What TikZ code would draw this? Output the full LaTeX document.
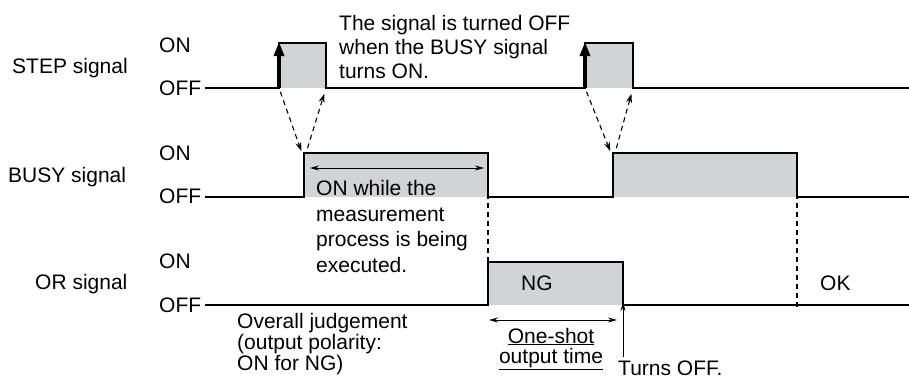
\documentclass[tikz,border=0pt]{standalone}
\usepackage{fontspec}
\setmainfont{Liberation Sans}
\usetikzlibrary{arrows.meta}
\definecolor{pulsegray}{RGB}{209,211,212}
\begin{document}
\begin{tikzpicture}[x=1pt,y=-1pt,
  every node/.style={inner sep=0pt, font=\fontsize{21}{24}\selectfont},
  lbl/.style={anchor=base west},
  sig/.style={line width=1.8pt, line join=miter},
  pulse/.style={fill=pulsegray, draw=none},
  dasharrow/.style={line width=1.1pt, dash pattern=on 5pt off 4pt, -{Stealth[length=9pt,width=6pt]}},
  vdash/.style={line width=1.1pt, dash pattern=on 5pt off 4pt},
  dimarrow/.style={line width=0.9pt, {Stealth[length=9pt,width=5pt]}-{Stealth[length=9pt,width=5pt]}},
  uparrow/.style={line width=0.9pt, -{Stealth[length=9pt,width=5pt]}},
  thickarrow/.style={line width=3.2pt, -{Triangle[length=14pt,width=10pt]}}]
\useasboundingbox (0,0) rectangle (909,381);

% ---------- coordinates ----------
% STEP
\coordinate (s0) at (205,88);
\coordinate (s1r) at (279,88);  \coordinate (s1rt) at (279,43);
\coordinate (s1f) at (326,88);  \coordinate (s1ft) at (326,43);
\coordinate (s2r) at (585,88);  \coordinate (s2rt) at (585,43);
\coordinate (s2f) at (633,88);  \coordinate (s2ft) at (633,43);
\coordinate (send) at (909,88);
% BUSY
\coordinate (b0) at (205,197);
\coordinate (b1r) at (304,197); \coordinate (b1rt) at (304,153);
\coordinate (b1f) at (488,197); \coordinate (b1ft) at (488,153);
\coordinate (b2r) at (613,197); \coordinate (b2rt) at (613,153);
\coordinate (b2f) at (797,197); \coordinate (b2ft) at (797,153);
\coordinate (bend) at (909,197);
% OR
\coordinate (o0) at (205,305);
\coordinate (o1r) at (488,305); \coordinate (o1rt) at (488,262);
\coordinate (o1f) at (623,305); \coordinate (o1ft) at (623,262);
\coordinate (oend) at (909,305);
\coordinate (okmark) at (797,305);

% ---------- pulses (fill) ----------
\fill[pulse] (s1rt) rectangle (s1f);
\fill[pulse] (s2rt) rectangle (s2f);
\fill[pulse] (b1rt) rectangle (b1f);
\fill[pulse] (b2rt) rectangle (b2f);
\fill[pulse] (o1rt) rectangle (o1f);

% ---------- waveforms ----------
\draw[sig] (s0) -- (s1r) -- (s1rt) -- (s1ft) -- (s1f) -- (s2r) -- (s2rt) -- (s2ft) -- (s2f) -- (send);
\draw[sig] (b0) -- (b1r) -- (b1rt) -- (b1ft) -- (b1f) -- (b2r) -- (b2rt) -- (b2ft) -- (b2f) -- (bend);
\draw[sig] (o0) -- (o1r) -- (o1rt) -- (o1ft) -- (o1f) -- (oend);

% STEP rising edges (thick arrows)
\draw[thickarrow] (s1r) -- ([yshift=1pt]s1rt);
\draw[thickarrow] (s2r) -- ([yshift=1pt]s2rt);

% ---------- dashed arrows between signals ----------
\draw[dasharrow, shorten <=4pt, shorten >=2pt] (s1r) -- ([xshift=-2pt]b1rt);
\draw[dasharrow, shorten <=5pt, shorten >=6pt] ([xshift=2pt]b1rt) -- (s1f);
\draw[dasharrow, shorten <=4pt, shorten >=2pt] (s2r) -- ([xshift=-2pt]b2rt);
\draw[dasharrow, shorten <=5pt, shorten >=6pt] ([xshift=2pt]b2rt) -- (s2f);
\draw[vdash] ([yshift=3pt]b1f) -- (o1rt);
\draw[vdash] ([yshift=3pt]b2f) -- ([yshift=-3pt]okmark);

% ---------- labels ----------
\node[lbl] (steplbl) at (12,73) {STEP signal};
\node[lbl] (stepon) at (159,52) {ON};
\node[lbl] (stepoff) at (159,95) {OFF};
\node[lbl] (busylbl) at (8,182) {BUSY signal};
\node[lbl] (busyon) at (159,160) {ON};
\node[lbl] (busyoff) at (159,203) {OFF};
\node[lbl] (orlbl) at (35,289) {OR signal};
\node[lbl] (oron) at (159,268) {ON};
\node[lbl] (oroff) at (159,312) {OFF};

% multi-line nodes: base anchor is the baseline of the last line
\node[lbl, align=left] (note) at (339,78) {The signal is turned OFF\\when the BUSY signal\\turns ON.};
\node[lbl, align=left, font=\fontsize{21}{25.5}\selectfont] (busynote) at (316,272) {ON while the\\measurement\\process is being\\executed.};
\node[lbl, align=left, font=\fontsize{21}{18.5}\selectfont] (judge) at (237,370) {Overall judgement\\(output polarity:\\ON for NG)};
\node[lbl] (ng) at (521,290) {NG};
\node[lbl] (ok) at (820,290) {OK};
\node[anchor=base, align=center, font=\fontsize{21}{20}\selectfont] (oneshot) at (551,363) {\underline{One-shot}\\\underline{output time}};
\node[lbl] (turns) at (618,375) {Turns OFF.};

% ---------- dimension arrows ----------
\coordinate (bdimL) at (310,168);
\coordinate (bdimR) at (484,168);
\draw[dimarrow] (bdimL) -- (bdimR);
\coordinate (odimL) at (489,320);
\coordinate (odimR) at (617,320);
\draw[dimarrow] (odimL) -- (odimR);
\coordinate (turnsfoot) at (623,357);
\draw[uparrow] (turnsfoot) -- ([yshift=3pt]o1f);
\end{tikzpicture}
\end{document}
